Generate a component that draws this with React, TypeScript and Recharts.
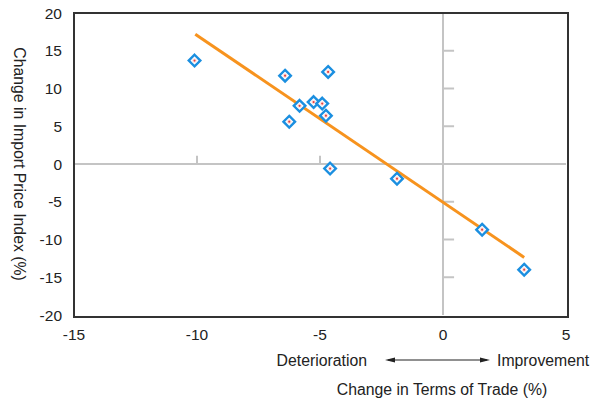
import React from "react";
import {
  ScatterChart,
  Scatter,
  XAxis,
  YAxis,
  ReferenceLine,
} from "recharts";

// Observations: change in terms of trade (%) vs change in import price index (%)
const termsOfTrade = [-10.1, -6.42, -4.67, -5.83, -5.26, -4.91, -4.76, -6.25, -4.59, -1.87, 1.59, 3.3];
const importPrice = [13.7, 11.7, 12.2, 7.7, 8.2, 8.0, 6.4, 5.6, -0.6, -1.95, -8.7, -14.0];

// Fitted trend line endpoints
const trendX = [-10.07, 3.3];
const trendY = [17.2, -12.37];

const xTicks = [-15, -10, -5, 0, 5];
const yTicks = [-20, -15, -10, -5, 0, 5, 10, 15, 20];
const xDomain: [number, number] = [-15, 5];
const yDomain: [number, number] = [-20, 20];

const points = termsOfTrade.map((x, i) => ({ x, y: importPrice[i] }));
const trend = trendX.map((x, i) => ({ x, y: trendY[i] }));

const FONT = "'Liberation Sans', Arial, sans-serif";
const TEXT = "#222";
const ZERO = "#c4c4c4";
const FRAME_COLOR = "#333333";

const WIDTH = 602;
const HEIGHT = 401;
const MARGIN = { top: 13, right: 36, bottom: 0, left: 0 };
const Y_AXIS_W = 74;
const X_AXIS_H = 86;

const Diamond = (props: any) => {
  const { cx, cy } = props;
  if (cx == null || cy == null) return <g />;
  const r = 5.8;
  return (
    <g>
      <path
        d={`M${cx},${cy - r}L${cx + r},${cy}L${cx},${cy + r}L${cx - r},${cy}Z`}
        fill="#fff"
        stroke="#1b8fe0"
        strokeWidth={2.4}
      />
      <circle cx={cx} cy={cy} r={2.4} fill="#fbe2e2" />
      <circle cx={cx} cy={cy} r={1.1} fill="#e8413c" />
    </g>
  );
};

const NoShape = () => <g />;

// Notes under the x axis
const XNotes = (props: any) => {
  const vb = props.viewBox || {};
  const { x = 0, y = 0, width = 0 } = vb;
  const x0 = x + (width * (0 - xDomain[0])) / (xDomain[1] - xDomain[0]);
  const ay = y + 45;
  return (
    <g fontFamily={FONT} fontSize={15.8} fill={TEXT}>
      <text x={x0 - 76} y={y + 51} textAnchor="end" fill={TEXT}>
        Deterioration
      </text>
      <text x={x0 + 54} y={y + 51} textAnchor="start" fill={TEXT}>
        Improvement
      </text>
      <rect x={x0 - 55} y={ay - 0.5} width={99} height={1} fill="#222" />
      <path d={`M${x0 - 58},${ay}L${x0 - 48},${ay - 2.5}L${x0 - 48},${ay + 2.5}Z`} fill="#222" />
      <path d={`M${x0 + 47},${ay}L${x0 + 37},${ay - 2.5}L${x0 + 37},${ay + 2.5}Z`} fill="#222" />
      <text x={x0 - 1} y={y + 80} textAnchor="middle" fill={TEXT}>
        Change in Terms of Trade (%)
      </text>
    </g>
  );
};

const YTitle = (props: any) => {
  const vb = props.viewBox || {};
  const { y = 0, height = 0 } = vb;
  const cy = y + height / 2;
  const cx = 19;
  return (
    <text
      x={cx}
      y={cy}
      transform={`rotate(90, ${cx}, ${cy})`}
      textAnchor="middle"
      dominantBaseline="central"
      fontFamily={FONT}
      fontSize={15.8}
      fill={TEXT}
    >
      Change in Import Price Index (%)
    </text>
  );
};

const tickStyle = { fontFamily: FONT, fontSize: 15.5, fill: TEXT };

// Plot box in page pixels, from the chart layout constants
const plotLeft = MARGIN.left + Y_AXIS_W;
const plotTop = MARGIN.top;
const plotW = WIDTH - MARGIN.right - plotLeft;
const plotH = HEIGHT - MARGIN.bottom - X_AXIS_H - plotTop;

export default function App() {
  return (
    <div style={{ position: "absolute", left: 0, top: 0, width: WIDTH, height: HEIGHT, background: "#fff" }}>
      <ScatterChart width={WIDTH} height={HEIGHT} margin={MARGIN}>
        <XAxis
          type="number"
          dataKey="x"
          domain={xDomain}
          ticks={xTicks}
          allowDataOverflow
          height={X_AXIS_H}
          axisLine={false}
          tickLine={false}
          tickSize={0}
          tickMargin={14}
          tick={tickStyle}
          label={(p: any) => <XNotes {...p} />}
        />
        <YAxis
          type="number"
          dataKey="y"
          domain={yDomain}
          ticks={yTicks}
          allowDataOverflow
          width={Y_AXIS_W}
          axisLine={false}
          tickLine={false}
          tickSize={0}
          tickMargin={12}
          tick={tickStyle}
          label={(p: any) => <YTitle {...p} />}
        />
        {/* zero axes */}
        <ReferenceLine x={0} stroke={ZERO} strokeWidth={2} />
        <ReferenceLine y={0} stroke={ZERO} strokeWidth={2} />
        {/* short tick marks on the zero axes */}
        {[-10, -5].map((t) => (
          <ReferenceLine
            key={`xt${t}`}
            segment={[{ x: t, y: 0 }, { x: t, y: 1.1 }]}
            stroke={ZERO}
            strokeWidth={2}
          />
        ))}
        {[-15, -10, -5, 5, 10, 15].map((t) => (
          <ReferenceLine
            key={`yt${t}`}
            segment={[{ x: 0, y: t }, { x: 0.45, y: t }]}
            stroke={ZERO}
            strokeWidth={2}
          />
        ))}
        <Scatter
          data={trend}
          line={{ stroke: "#f7931e", strokeWidth: 3 }}
          shape={NoShape}
          isAnimationActive={false}
        />
        <Scatter data={points} shape={Diamond} isAnimationActive={false} />
      </ScatterChart>
      {/* plot frame */}
      <div
        style={{
          position: "absolute",
          left: plotLeft - 1,
          top: plotTop - 1,
          width: plotW,
          height: plotH,
          border: `2px solid ${FRAME_COLOR}`,
          boxSizing: "content-box",
          pointerEvents: "none",
        }}
      />
    </div>
  );
}
